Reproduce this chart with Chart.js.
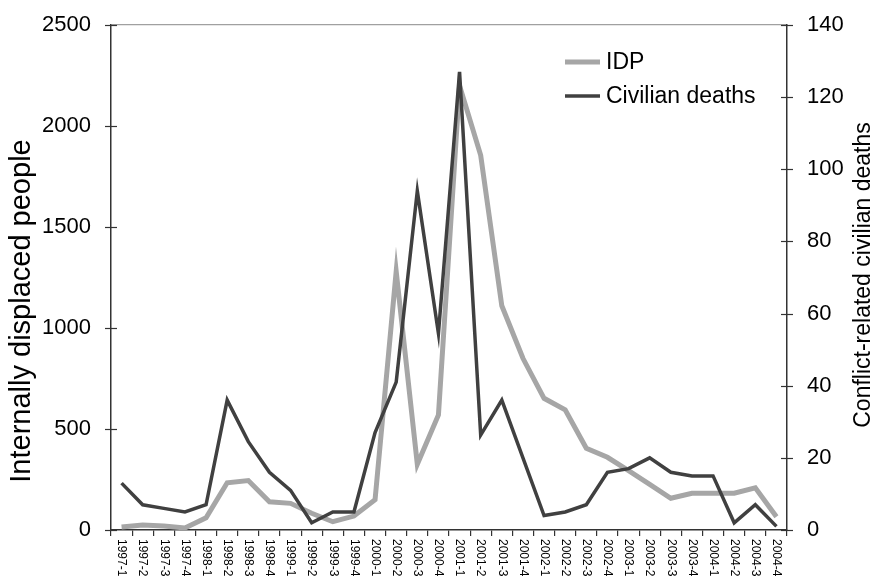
<!DOCTYPE html>
<html>
<head>
<meta charset="utf-8">
<script src="https://cdn.jsdelivr.net/npm/chart.js@4.4.0/dist/chart.umd.min.js"></script>
<style>
  html, body { margin: 0; padding: 0; background: #fff; }
  #wrap { width: 878px; height: 579px; position: relative; }
</style>
</head>
<body>
<div id="wrap"><canvas id="c" width="878" height="579"></canvas></div>
<script>
const categories = ["1997-1","1997-2","1997-3","1997-4","1998-1","1998-2","1998-3","1998-4",
  "1999-1","1999-2","1999-3","1999-4","2000-1","2000-2","2000-3","2000-4",
  "2001-1","2001-2","2001-3","2001-4","2002-1","2002-2","2002-3","2002-4",
  "2003-1","2003-2","2003-3","2003-4","2004-1","2004-2","2004-3","2004-4"];
const idpValues = [15, 25, 20, 10, 60, 234, 245, 140, 132, 83, 41, 69, 150, 1280, 325, 570,
  2200, 1855, 1110, 850, 652, 595, 405, 360, 294, 226, 157, 182, 182, 182, 209, 66];
const deathValues = [13, 7, 6, 5, 7, 36, 24.5, 16, 11, 2, 5, 5, 27, 41, 94, 54.5,
  127, 26.3, 36, 20, 4, 5, 7, 16, 17, 20, 16, 15, 15, 2, 7, 1];
const leftTicks = [0, 500, 1000, 1500, 2000, 2500];
const rightTicks = [0, 20, 40, 60, 80, 100, 120, 140];
const leftTitle = 'Internally displaced people';
const rightTitle = 'Conflict-related civilian deaths';

const FONT = "'Liberation Sans', Arial, Helvetica, sans-serif";
const AXIS = '#333333';

const decorPlugin = {
  id: 'decor',
  afterDraw(chart) {
    const ctx = chart.ctx;
    const xs = chart.scales.x, yl = chart.scales.y, yr = chart.scales.y1;
    ctx.save();
    ctx.strokeStyle = AXIS;
    ctx.lineWidth = 1.2;
    leftTicks.forEach(v => {
      const y = Math.round(yl.getPixelForValue(v)) + 0.5;
      ctx.beginPath(); ctx.moveTo(yl.right - 6, y); ctx.lineTo(yl.right + 6, y); ctx.stroke();
    });
    rightTicks.forEach(v => {
      const y = Math.round(yr.getPixelForValue(v)) + 0.5;
      ctx.beginPath(); ctx.moveTo(yr.left - 6, y); ctx.lineTo(yr.left + 6, y); ctx.stroke();
    });
    ctx.fillStyle = '#000';
    ctx.font = '12px ' + FONT;
    ctx.textAlign = 'left';
    ctx.textBaseline = 'middle';
    categories.forEach((lab, i) => {
      const x = xs.getPixelForValue(i);
      ctx.save();
      ctx.translate(x, xs.top + 9);
      ctx.rotate(Math.PI / 2);
      ctx.fillText(lab, 0, 0);
      ctx.restore();
    });
    // axis titles
    ctx.save();
    ctx.font = '29px ' + FONT;
    ctx.textAlign = 'center';
    ctx.textBaseline = 'middle';
    ctx.translate(22, 311);
    ctx.rotate(-Math.PI / 2);
    ctx.fillText(leftTitle, 0, 0);
    ctx.restore();
    ctx.save();
    ctx.font = '23px ' + FONT;
    ctx.textAlign = 'center';
    ctx.textBaseline = 'middle';
    ctx.translate(864, 275);
    ctx.rotate(-Math.PI / 2);
    ctx.fillText(rightTitle, 0, 0);
    ctx.restore();
    // legend
    ctx.font = '23px ' + FONT;
    ctx.textAlign = 'left';
    ctx.textBaseline = 'middle';
    chart.data.datasets.forEach((ds, i) => {
      const y = 62 + 34 * i;
      ctx.strokeStyle = ds.borderColor;
      ctx.lineWidth = ds.borderWidth;
      ctx.beginPath(); ctx.moveTo(565, y); ctx.lineTo(600, y); ctx.stroke();
      ctx.fillStyle = '#000';
      ctx.fillText(ds.label, 606, y + 1);
    });
    ctx.restore();
  }
};

new Chart(document.getElementById('c'), {
  type: 'line',
  data: {
    labels: categories,
    datasets: [
      { label: 'IDP', data: idpValues, yAxisID: 'y', borderColor: '#A6A6A6', borderWidth: 5,
        pointRadius: 0, tension: 0, order: 2, borderJoinStyle: 'miter' },
      { label: 'Civilian deaths', data: deathValues, yAxisID: 'y1', borderColor: '#404040', borderWidth: 3.5,
        pointRadius: 0, tension: 0, order: 1, borderJoinStyle: 'miter' }
    ]
  },
  options: {
    responsive: false,
    animation: false,
    layout: { padding: { top: 25, left: 0, right: 0, bottom: 0 } },
    plugins: { legend: { display: false }, tooltip: { enabled: false } },
    scales: {
      x: {
        type: 'category',
        offset: true,
        grid: { offset: true, drawOnChartArea: false, drawTicks: true, tickLength: 6, color: AXIS, lineWidth: 1.2 },
        border: { display: true, color: AXIS, width: 1.5 },
        ticks: { display: false },
        afterFit(s) { s.height = 49; }
      },
      y: {
        position: 'left',
        min: 0, max: 2500,
        afterBuildTicks(s) { s.ticks = leftTicks.map(v => ({ value: v })); },
        grid: {
          drawOnChartArea: true, drawTicks: true, tickLength: 20, tickColor: 'rgba(0,0,0,0)',
          color: c => (c.tick && c.tick.value === 2500) ? '#A0A0A0' : 'rgba(0,0,0,0)',
          lineWidth: 1.2
        },
        border: { display: true, color: AXIS, width: 1.5 },
        ticks: { padding: 0, color: '#000', font: { family: FONT, size: 22 }, callback: v => String(v) },
        title: { display: false },
        afterFit(s) { s.width = 111; }
      },
      y1: {
        position: 'right',
        min: 0, max: 140,
        afterBuildTicks(s) { s.ticks = rightTicks.map(v => ({ value: v })); },
        grid: { drawOnChartArea: false, drawTicks: true, tickLength: 20, tickColor: 'rgba(0,0,0,0)' },
        border: { display: true, color: AXIS, width: 1.5 },
        ticks: { padding: 0, color: '#000', font: { family: FONT, size: 22 }, callback: v => String(v) },
        title: { display: false },
        afterFit(s) { s.width = 91; }
      }
    }
  },
  plugins: [decorPlugin]
});
</script>
</body>
</html>
